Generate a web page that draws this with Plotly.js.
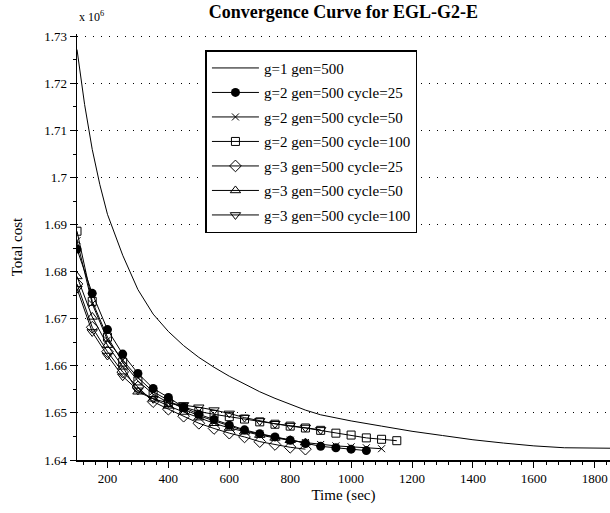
<!DOCTYPE html>
<html><head><meta charset="utf-8">
<script src="https://cdn.plot.ly/plotly-3.0.1.min.js"></script>
<style>html,body{margin:0;padding:0;background:#fff}</style>
</head><body><div id="chart" style="width:610px;height:513px"></div>
<script>
// Time (sec) and total cost (x 10^6)
const timeG1 = [100,125,150,175,200,250,300,350,400,450,500,550,600,650,700,750,800,850,900,950,1000,1100,1200,1300,1400,1500,1600,1700,1800,1850];
const costG1 = [1.7272,1.7155,1.7060,1.6985,1.6922,1.6835,1.6762,1.6710,1.6673,1.6643,1.6618,1.6597,1.6578,1.6561,1.6545,1.6531,1.6519,1.6506,1.6496,1.6489,1.6483,1.6472,1.6461,1.6452,1.6443,1.6436,1.6430,1.6426,1.6425,1.6425];

const timeG2C25 = [100,150,200,250,300,350,400,450,500,550,600,650,700,750,800,850,900,950,1000,1050];
const costG2C25 = [1.6848,1.6754,1.6677,1.6625,1.6584,1.6552,1.6533,1.6512,1.6497,1.6486,1.6474,1.6464,1.6456,1.6449,1.6442,1.6435,1.6429,1.6426,1.6423,1.6420];

const timeG2C50 = [100,150,200,250,300,350,400,450,500,550,600,650,700,750,800,850,900,950,1000,1050,1100];
const costG2C50 = [1.6866,1.6732,1.6655,1.6612,1.6575,1.6545,1.6527,1.6508,1.6494,1.6483,1.6472,1.6462,1.6455,1.6448,1.6442,1.6437,1.6433,1.6430,1.6428,1.6426,1.6424];

const timeG2C100 = [100,150,200,250,300,350,400,450,500,550,600,650,700,750,800,850,900,950,1000,1050,1100,1150];
const costG2C100 = [1.6886,1.6737,1.6661,1.6608,1.6568,1.6540,1.6522,1.6512,1.6503,1.6497,1.6492,1.6487,1.6481,1.6476,1.6472,1.6468,1.6463,1.6457,1.6453,1.6447,1.6444,1.6441];

const timeG3C25 = [100,150,200,250,300,350,400,450,500,550,600,650,700,750,800,850];
const costG3C25 = [1.6774,1.6682,1.6630,1.6587,1.6555,1.6524,1.6508,1.6493,1.6478,1.6467,1.6457,1.6449,1.6439,1.6433,1.6427,1.6423];

const timeG3C50 = [100,150,200,250,300,350,400,450,500,550,600,650,700,750,800,850];
const costG3C50 = [1.6790,1.6704,1.6644,1.6598,1.6545,1.6530,1.6515,1.6502,1.6490,1.6478,1.6468,1.6460,1.6453,1.6447,1.6442,1.6437];

const timeG3C100 = [100,150,200,250,300,350,400,450,500,550,600,650,700,750,800,850,900];
const costG3C100 = [1.6764,1.6672,1.6622,1.6578,1.6548,1.6530,1.6521,1.6517,1.6512,1.6506,1.6499,1.6490,1.6483,1.6477,1.6473,1.6469,1.6464];

const seriesNames = ['g=1 gen=500','g=2 gen=500 cycle=25','g=2 gen=500 cycle=50','g=2 gen=500 cycle=100','g=3 gen=500 cycle=25','g=3 gen=500 cycle=50','g=3 gen=500 cycle=100'];
const xTickVals = [200,400,600,800,1000,1200,1400,1600,1800];
const yTickVals = [1.64,1.65,1.66,1.67,1.68,1.69,1.70,1.71,1.72,1.73];

const FONT = 'Liberation Serif, Times New Roman, serif';
const lineStyle = {color:'#000', width:1};
function openMk(sym, size){ return {symbol:sym, size:size, color:'#000', line:{color:'#000', width:1}}; }

const traces = [
  {x:timeG1, y:costG1, name:seriesNames[0], mode:'lines', line:lineStyle, legendgroup:'a'},
  {x:timeG2C25, y:costG2C25, name:seriesNames[1], mode:'lines+markers', line:lineStyle, marker:{symbol:'circle', size:9, color:'#000', line:{color:'#000', width:0}}, legendgroup:'b'},
  {x:timeG2C50, y:costG2C50, name:seriesNames[2], mode:'lines+markers', line:lineStyle, marker:openMk('x-thin-open',7), legendgroup:'c'},
  {x:timeG2C100, y:costG2C100, name:seriesNames[3], mode:'lines+markers', line:lineStyle, marker:openMk('square-open',8), legendgroup:'d'},
  {x:timeG3C25, y:costG3C25, name:seriesNames[4], mode:'lines+markers', line:lineStyle, marker:openMk('diamond-open',9), legendgroup:'e'},
  {x:timeG3C50, y:costG3C50, name:seriesNames[5], mode:'lines+markers', line:lineStyle, marker:openMk('triangle-up-open',9), legendgroup:'f'},
  {x:timeG3C100, y:costG3C100, name:seriesNames[6], mode:'lines+markers', line:lineStyle, marker:openMk('triangle-down-open',9), legendgroup:'g'}
];

const layout = {
  width:610, height:513,
  margin:{l:77, r:0, t:34, b:53},
  paper_bgcolor:'#fff', plot_bgcolor:'#fff',
  font:{family:FONT, size:13, color:'#000'},
  title:{text:'<b>Convergence Curve for EGL-G2-E</b>', font:{family:FONT, size:18, color:'#000'}, x:0.563, xanchor:'center', y:0.977, yanchor:'middle'},
  xaxis:{
    range:[100,1850], tickvals:xTickVals, ticks:'outside', ticklen:6, tickwidth:1, tickcolor:'#000',
    showline:true, linecolor:'#000', linewidth:1.5, showgrid:false, zeroline:false,
    minor:{tick0:0, dtick:40, ticks:'outside', ticklen:3, tickcolor:'#000', showgrid:false},
    tickfont:{family:FONT, size:13, color:'#000'},
    title:{text:'Time (sec)', font:{family:FONT, size:15, color:'#000'}, standoff:4}
  },
  yaxis:{
    range:[1.64,1.7305], tickvals:yTickVals, ticks:'outside', ticklen:6, tickwidth:1, tickcolor:'#000',
    showline:true, linecolor:'#000', linewidth:1.5, zeroline:false,
    showgrid:true, gridcolor:'#000', gridwidth:1, griddash:'1px,7px',
    minor:{tick0:1.64, dtick:0.005, ticks:'outside', ticklen:3, tickcolor:'#000', showgrid:false},
    tickfont:{family:FONT, size:13, color:'#000'},
    title:{text:'Total cost', font:{family:FONT, size:15, color:'#000'}, standoff:18}
  },
  legend:{
    x:0.241, y:0.962, xanchor:'left', yanchor:'top',
    bgcolor:'#fff', bordercolor:'#000', borderwidth:1.5,
    font:{family:FONT, size:15, color:'#000'},
    itemwidth:47, traceorder:'grouped', tracegroupgap:2
  },
  annotations:[{xref:'paper', yref:'paper', x:0, y:1, xanchor:'left', yanchor:'bottom', yshift:8, showarrow:false,
    text:'x 10<sup>6</sup>', font:{family:FONT, size:12, color:'#000'}}],
  showlegend:true
};

Plotly.newPlot('chart', traces, layout, {displayModeBar:false, staticPlot:true});
</script>
</body></html>
